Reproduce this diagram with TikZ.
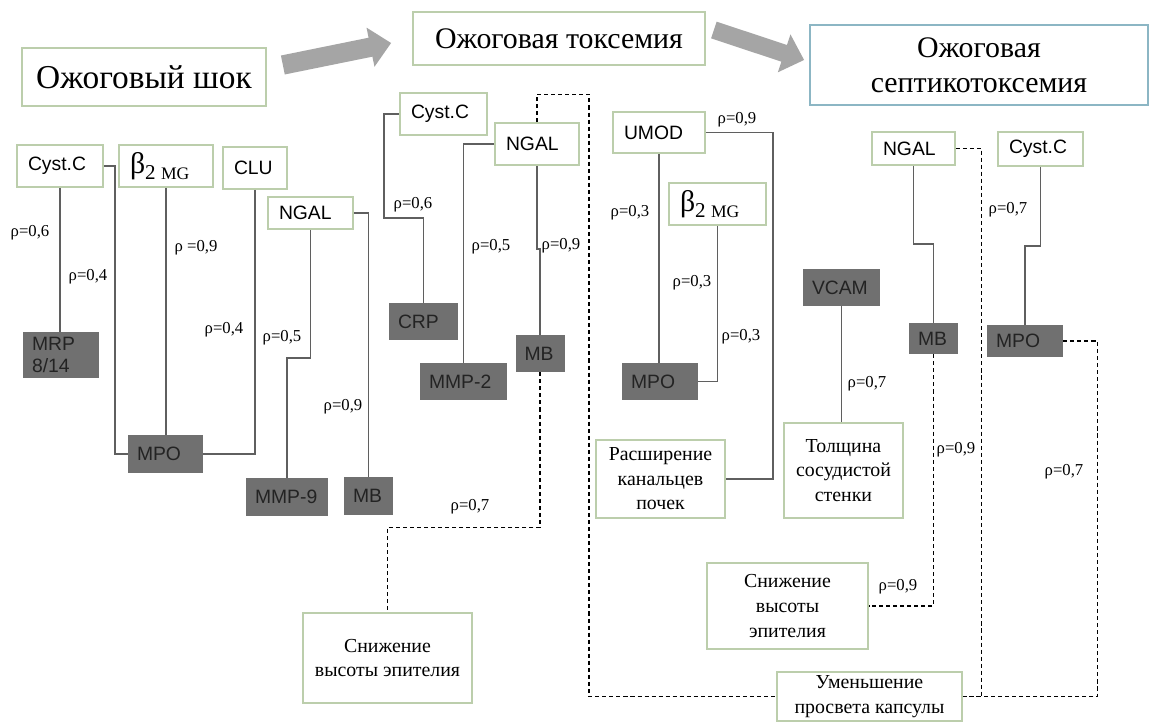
\documentclass[tikz,border=0pt]{standalone}
\usepackage{fontspec}
\setmainfont{Liberation Serif}
\setsansfont{Liberation Sans}
\usetikzlibrary{arrows.meta}

\definecolor{boxgreen}{RGB}{188,206,172}
\definecolor{boxblue}{RGB}{140,182,196}
\definecolor{boxgray}{RGB}{112,112,112}
\definecolor{boxtext}{RGB}{35,35,35}
\definecolor{linegray}{RGB}{95,95,95}
\definecolor{arrowgray}{RGB}{165,165,165}

\newcommand{\betamg}{{\rmfamily\fontsize{17}{17}\selectfont β\raisebox{-3.6pt}{\fontsize{12}{12}\selectfont 2\hspace{3pt}\fontsize{10}{10}\selectfont MG}}}

\begin{document}
\begin{tikzpicture}[
        x=0.02cm, y=-0.02cm,
        every node/.style={align=center},
        title/.style={rectangle, draw=boxgreen, line width=1pt, fill=white, font=\fontsize{17}{20}\selectfont},
        gbox/.style={rectangle, draw=boxgreen, line width=1pt, fill=white, font=\sffamily\fontsize{11}{13}\selectfont, align=left, inner xsep=0.22cm, inner ysep=0pt},
        dbox/.style={rectangle, fill=boxgray, text=boxtext, font=\sffamily\fontsize{11}{12.5}\selectfont, align=left, inner xsep=0.18cm, inner ysep=0pt},
        tbox/.style={rectangle, draw=boxgreen, line width=1pt, fill=white, font=\fontsize{11.3}{14}\selectfont, inner sep=0pt},
        rho/.style={font=\fontsize{9.5}{11}\selectfont, inner sep=0pt},
        link/.style={draw=linegray, line width=0.8pt},
        dlink/.style={draw=black, line width=0.7pt, dash pattern=on 2.3pt off 1.7pt},
        bigarrow/.style={draw=arrowgray, line width=11pt, -{Triangle[length=12pt,width=22pt]}}
    ]
    \useasboundingbox (0,0) rectangle (1150,722);
    \fill[white] (0,0) rectangle (1150,722);
    % Stages
    \node[title, font=\fontsize{19}{22}\selectfont, minimum width=4.88cm, minimum height=1.16cm] (shock) at (144,77) {Ожоговый шок};
    \node[title, minimum width=5.84cm, minimum height=1.06cm] (tox) at (559,38.5) {Ожоговая токсемия};
    \node[title, draw=boxblue, minimum width=6.76cm, minimum height=1.6cm] (septic) at (979,65) {Ожоговая\\септикотоксемия};
    \draw[bigarrow] ([shift={(16,-12)}]shock.east) -- ([shift={(-21,4.5)}]tox.west);
    \draw[bigarrow, line width=10pt] ([shift={(8,-8.5)}]tox.east) -- ([shift={(-5,-5)}]septic.west);
    % Burn shock
    \node[gbox, text width=1.28cm, minimum height=0.84cm] (cystA) at (60,166) {Cyst.C};
    \node[gbox, text width=1.44cm, minimum height=0.84cm] (mgA) at (166,166) {\betamg};
    \node[gbox, text width=0.84cm, minimum height=0.84cm] (cluA) at (255,168) {CLU};
    \node[gbox, text width=1.26cm, minimum height=0.64cm] (ngalA) at (310.5,213) {NGAL};
    \node[dbox, text width=1.16cm, minimum height=0.92cm] (mrpA) at (61,355) {MRP\\8/14};
    \node[dbox, text width=1.14cm, minimum height=0.76cm] (mpoA) at (165.5,454) {MPO};
    \node[dbox, text width=1.28cm, minimum height=0.76cm] (mmp9A) at (287,497) {MMP-9};
    \node[dbox, text width=0.62cm, minimum height=0.76cm] (mbA) at (368.5,496) {MB};
    \draw[link] (cystA.south) -- (cystA.south |- mrpA.north);
    \draw[link] (cystA.east) -- ++(11,0) |- (mpoA.west);
    \draw[link] (mgA.south) -- (mgA.south |- mpoA.north);
    \draw[link] (cluA.south) |- (mpoA.east);
    \draw[link] (ngalA.south) -- ++(0,128) -| (mmp9A.north);
    \draw[link] (ngalA.east) -| (mbA.north);
    \node[rho] (r1) at (30,233) {ρ=0,6};
    \node[rho] (r2) at (88,277) {ρ=0,4};
    \node[rho] (r3) at (196,248) {ρ =0,9};
    \node[rho] (r4) at (224,330) {ρ=0,4};
    \node[rho] (r5) at (282,338) {ρ=0,5};
    \node[rho] (r6) at (343,407) {ρ=0,9};
    % Burn toxemia
    \node[gbox, text width=1.30cm, minimum height=0.84cm] (cystB) at (443.5,114) {Cyst.C};
    \node[gbox, text width=1.24cm, minimum height=0.84cm] (ngalB) at (537,144) {NGAL};
    \node[dbox, text width=1.02cm, minimum height=0.74cm] (crpB) at (423.5,321.5) {CRP};
    \node[dbox, text width=1.38cm, minimum height=0.74cm] (mmp2B) at (463.5,381.5) {MMP-2};
    \node[dbox, text width=0.62cm, minimum height=0.74cm] (mbB) at (540,353.5) {MB};
    \node[gbox, text width=1.40cm, minimum height=0.82cm] (umodB) at (659,132.5) {UMOD};
    \node[gbox, text width=1.50cm, minimum height=0.84cm] (mgB) at (717.5,204) {\betamg};
    \node[dbox, text width=1.16cm, minimum height=0.74cm] (mpoB) at (660,381.5) {MPO};
    \node[dbox, text width=1.18cm, minimum height=0.74cm] (vcam) at (841.5,287.5) {VCAM};
    \node[tbox, minimum width=2.58cm, minimum height=1.56cm] (dilat) at (660.5,479) {Расширение\\канальцев\\почек};
    \node[tbox, minimum width=2.38cm, minimum height=1.90cm] (wall) at (843.5,470.5) {Толщина\\сосудистой\\стенки};
    \node[tbox, minimum width=3.38cm, minimum height=1.80cm] (epiB) at (387.5,658) {Снижение\\высоты эпителия};
    \draw[link] (cystB.west) -- ++(-15,0) -- ++(0,104) -| (crpB.north);
    \draw[link] (ngalB.west) -| (mmp2B.north);
    \draw[link] (ngalB.south) -- ++(0,83) -| (mbB.north);
    \draw[link] (umodB.east) -- ++(67,0) |- (dilat.east);
    \draw[link] (umodB.south) -- (umodB.south |- mpoB.north);
    \draw[link] (mgB.south) |- (mpoB.east);
    \draw[link] (vcam.south) -- (vcam.south |- wall.north);
    \node[rho] (r7) at (413,205) {ρ=0,6};
    \node[rho] (r8) at (491,247) {ρ=0,5};
    \node[rho] (r9) at (561,246) {ρ=0,9};
    \node[rho] (r10) at (470,507) {ρ=0,7};
    \node[rho] (r11) at (737,120) {ρ=0,9};
    \node[rho] (r12) at (630,213) {ρ=0,3};
    \node[rho] (r13) at (692,283) {ρ=0,3};
    \node[rho] (r14) at (741,337) {ρ=0,3};
    \node[rho] (r15) at (867,384) {ρ=0,7};
    % Burn septicotoxemia
    \node[gbox, text width=1.22cm, minimum height=0.66cm] (ngalC) at (913.5,148.5) {NGAL};
    \node[gbox, text width=1.26cm, minimum height=0.68cm] (cystC) at (1040.5,149) {Cyst.C};
    \node[dbox, text width=0.62cm, minimum height=0.62cm] (mbC) at (933.5,338.5) {MB};
    \node[dbox, text width=1.16cm, minimum height=0.64cm] (mpoC) at (1025,341) {MPO};
    \node[tbox, minimum width=3.22cm, minimum height=1.72cm] (epiC) at (787.5,606) {Снижение\\высоты\\эпителия};
    \node[tbox, minimum width=3.70cm, minimum height=0.98cm] (lumen) at (869.5,696.5) {Уменьшение\\просвета капсулы};
    \draw[link] (ngalC.south) -- ++(0,78) -| (mbC.north);
    \draw[link] (cystC.south) -- ++(0,79) -| (mpoC.north);
    \node[rho] (r16) at (1008,210) {ρ=0,7};
    \node[rho] (r17) at (956,450) {ρ=0,9};
    \node[rho] (r18) at (898,587) {ρ=0,9};
    \node[rho] (r19) at (1064,472) {ρ=0,7};
    % Dashed links
    \draw[dlink] (ngalB.north) -- ++(0,-28) -- ++(52,0) |- (lumen.west);
    \draw[dlink] (mbB.south) -- ++(0,155) -| (epiB.north);
    \draw[dlink] (ngalC.east) -- ++(26,0) |- (lumen.east);
    \draw[dlink] (mbC.south) |- (epiC.east);
    \draw[dlink] (mpoC.east) -- ++(34,0) |- (lumen.east);
\end{tikzpicture}
\end{document}
